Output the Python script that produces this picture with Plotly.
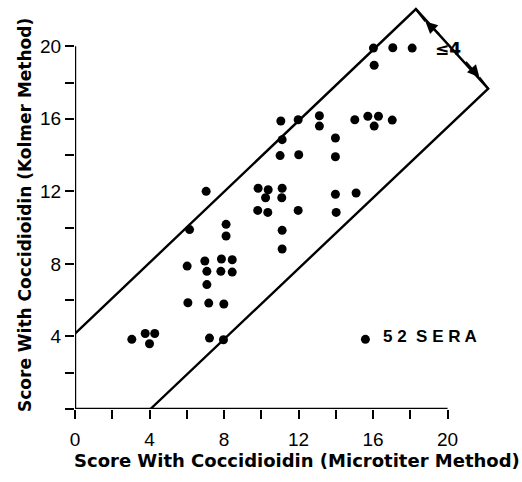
import plotly.graph_objects as go

# Data: serum scores (microtiter vs Kolmer)
micro = [3.05, 3.77, 4.28, 4.0, 6.02, 6.15, 6.06, 7.04, 6.97, 7.08, 7.08, 7.18, 7.22, 7.97,
         7.99, 7.86, 8.44, 7.83, 8.44, 8.11, 8.11, 9.83, 10.37, 11.12, 10.23, 11.1, 9.81,
         10.35, 11.12, 11.12, 11.98, 13.98, 15.09, 14.02, 16.02, 17.06, 18.1, 16.06, 11.05,
         11.98, 13.12, 13.12, 15.02, 15.72, 16.29, 16.06, 17.03, 11.12, 13.98, 11.01, 12.01,
         13.98]
kolmer = [3.84, 4.16, 4.16, 3.6, 7.88, 9.89, 5.86, 12.0, 8.16, 7.59, 6.86, 5.84, 3.91, 3.82,
          5.79, 8.27, 8.23, 7.59, 7.55, 10.18, 9.54, 12.17, 12.09, 12.17, 11.65, 11.65, 10.95,
          10.84, 9.85, 8.82, 10.95, 11.84, 11.91, 10.84, 19.9, 19.92, 19.9, 18.95, 15.88,
          15.95, 16.17, 15.6, 15.95, 16.14, 16.14, 15.6, 15.93, 14.85, 14.94, 13.97, 14.02,
          13.91]

# Agreement band (difference <= 4): upper edge, end cap, lower edge
band_x = [0, 18.3, 22.18, 4.05]
band_y = [4.15, 22.05, 17.66, 0]

tick_vals = [0, 2, 4, 6, 8, 10, 12, 14, 16, 18, 20]
x_tick_text = ["0", "", "4", "", "8", "", "12", "", "16", "", "20"]
y_tick_text = ["", "", "4", "", "8", "", "12", "", "16", "", "20"]

legend_label = "5 2  S E R A"
band_label = "≤4"
x_title = "Score With Coccidioidin (Microtiter Method)"
y_title = "Score With Coccidioidin (Kolmer Method)"

FONT = "Liberation Sans"
TFONT = "DejaVu Sans"

L, R, T, B = 75, 26, 0, 73
W = 522 - L - R
H = 482 - T - B

fig = go.Figure()
fig.add_trace(go.Scatter(x=band_x, y=band_y, mode="lines",
                         line=dict(color="black", width=2.4), hoverinfo="skip"))
fig.add_trace(go.Scatter(x=micro, y=kolmer, mode="markers",
                         marker=dict(color="black", size=9), cliponaxis=False))
# legend dot
fig.add_trace(go.Scatter(x=[15.59], y=[3.84], mode="markers",
                         marker=dict(color="black", size=9)))

axis_common = dict(tickvals=tick_vals, ticks="outside", ticklen=9, tickwidth=2,
                   tickcolor="black", showline=False, showgrid=False, zeroline=False,
                   automargin=False,
                   tickfont=dict(family=FONT, size=19, color="black"))
fig.update_xaxes(range=[0, 22.6], ticktext=x_tick_text, ticklabelstandoff=4, **axis_common)
fig.update_yaxes(range=[0, 22.55], ticktext=y_tick_text, **axis_common)

# axis lines from 0 to 20
fig.add_shape(type="line", x0=0, y0=0, x1=20, y1=0, xref="x", yref="y",
              line=dict(color="black", width=2.4))
fig.add_shape(type="line", x0=0, y0=0, x1=0, y1=20, xref="x", yref="y",
              line=dict(color="black", width=2.4))

# arrow tails to corners
fig.add_shape(type="line", x0=18.81, y0=21.37, x1=18.3, y1=22.05, xref="x", yref="y",
              line=dict(color="black", width=2))
fig.add_shape(type="line", x0=21.71, y0=18.29, x1=22.18, y1=17.66, xref="x", yref="y",
              line=dict(color="black", width=2))
fig.add_annotation(x=18.81, y=21.37, ax=19.62, ay=20.6, xref="x", yref="y",
                   axref="x", ayref="y", text="", showarrow=True, arrowhead=2,
                   arrowsize=1.2, arrowwidth=2, arrowcolor="black")
fig.add_annotation(x=21.71, y=18.29, ax=20.91, ay=19.22, xref="x", yref="y",
                   axref="x", ayref="y", text="", showarrow=True, arrowhead=2,
                   arrowsize=1.2, arrowwidth=2, arrowcolor="black")

fig.add_annotation(x=20.0, y=19.86, xref="x", yref="y", text="<b>" + band_label + "</b>",
                   showarrow=False, font=dict(family=TFONT, size=17, color="black"))
fig.add_annotation(x=16.44, y=4.0, xref="x", yref="y", text="<b>" + legend_label + "</b>",
                   xanchor="left", yanchor="middle", showarrow=False,
                   font=dict(family=FONT, size=17, color="black"))

# axis titles (positions given in pixels, converted to paper coords)
def px(xp, yp):
    return (xp - L) / W, (482 - B - yp) / H

tx, ty = px(296.5, 461)
fig.add_annotation(x=tx, y=ty, xref="paper", yref="paper", text="<b>" + x_title + "</b>",
                   xanchor="center", yanchor="middle",
                   showarrow=False, font=dict(family=TFONT, size=18, color="black"))
tx, ty = px(25, 215)
fig.add_annotation(x=tx, y=ty, xref="paper", yref="paper", text="<b>" + y_title + "</b>",
                   xanchor="center", yanchor="middle",
                   showarrow=False, textangle=-90, font=dict(family=TFONT, size=17, color="black"))

fig.update_layout(width=522, height=482, margin=dict(l=L, r=R, t=T, b=B),
                  plot_bgcolor="white", paper_bgcolor="white", showlegend=False)

fig.write_html("out.html", config={"displayModeBar": False},
               post_script="document.body.style.margin='0px';")
